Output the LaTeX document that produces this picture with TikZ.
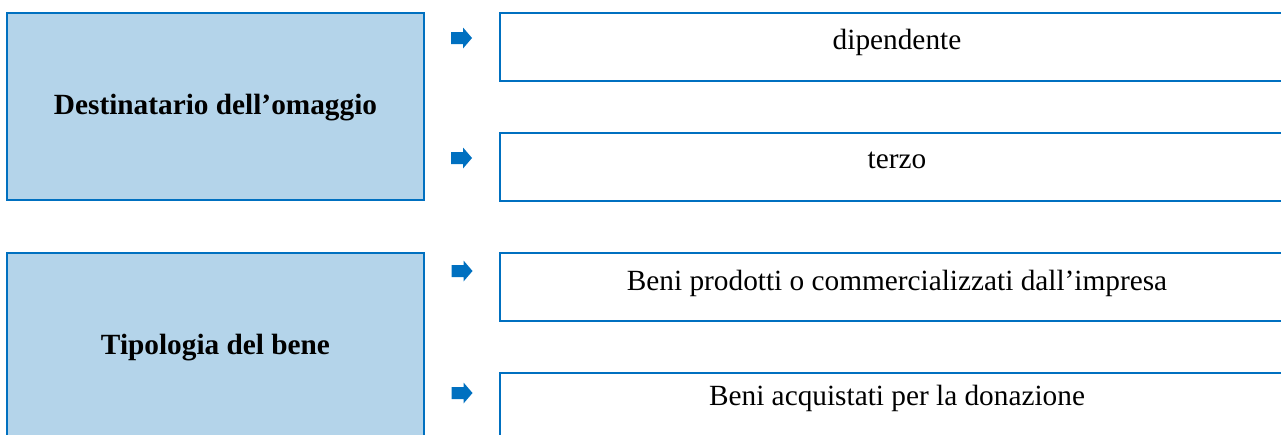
\documentclass[tikz,border=0pt]{standalone}
\usepackage{fontspec}
\setmainfont{Liberation Serif}
\definecolor{boxblue}{RGB}{0,112,192}
\definecolor{fillblue}{RGB}{180,212,234}

\begin{document}
\begin{tikzpicture}[x=1pt,y=1pt,yscale=-1,
  catbox/.style={draw=boxblue,fill=fillblue,line width=2pt,minimum width=417pt,minimum height=187pt,inner sep=0pt},
  outbox/.style={draw=boxblue,line width=2pt,minimum width=794pt,minimum height=68pt,inner sep=0pt},
  cattext/.style={anchor=base,font=\fontsize{29.3}{34}\selectfont\bfseries,inner sep=0pt},
  outtext/.style={anchor=base,font=\fontsize{29.3}{34}\selectfont,inner sep=0pt}]
\useasboundingbox (0,0) rectangle (1281,434);

%Category boxes
\node (dest) [catbox] at (215.5,106.5) {};
\node (tipo) [catbox] at (215.5,346.5) {};
%Output boxes
\node (dip) [outbox] at (897,47) {};
\node (ter) [outbox] at (897,166.5) {};
\node (prod) [outbox] at (897,287) {};
\node (acq) [outbox] at (897,407) {};
%Block arrows
\foreach \ax/\ay in {461.5/38, 461.5/158, 462/271, 462/393}
  \fill [boxblue] (\ax-10.5,\ay-6) -- (\ax+1.5,\ay-6) -- (\ax+1.5,\ay-10.5) -- (\ax+10.5,\ay)
    -- (\ax+1.5,\ay+10.5) -- (\ax+1.5,\ay+6) -- (\ax-10.5,\ay+6) -- cycle;

% Text Node
\node (destlab) [cattext] at (215.5,114) {Destinatario dell’omaggio};
% Text Node
\node (tipolab) [cattext] at (215.5,354) {Tipologia del bene};
% Text Node
\node (diplab) [outtext] at ([yshift=37pt]dip.north) {dipendente};
% Text Node
\node (terlab) [outtext] at ([yshift=37pt]ter.north) {terzo};
% Text Node
\node (prodlab) [outtext] at ([yshift=38pt]prod.north) {Beni prodotti o commercializzati dall’impresa};
% Text Node
\node (acqlab) [outtext] at ([yshift=33pt]acq.north) {Beni acquistati per la donazione};

\end{tikzpicture}
\end{document}
